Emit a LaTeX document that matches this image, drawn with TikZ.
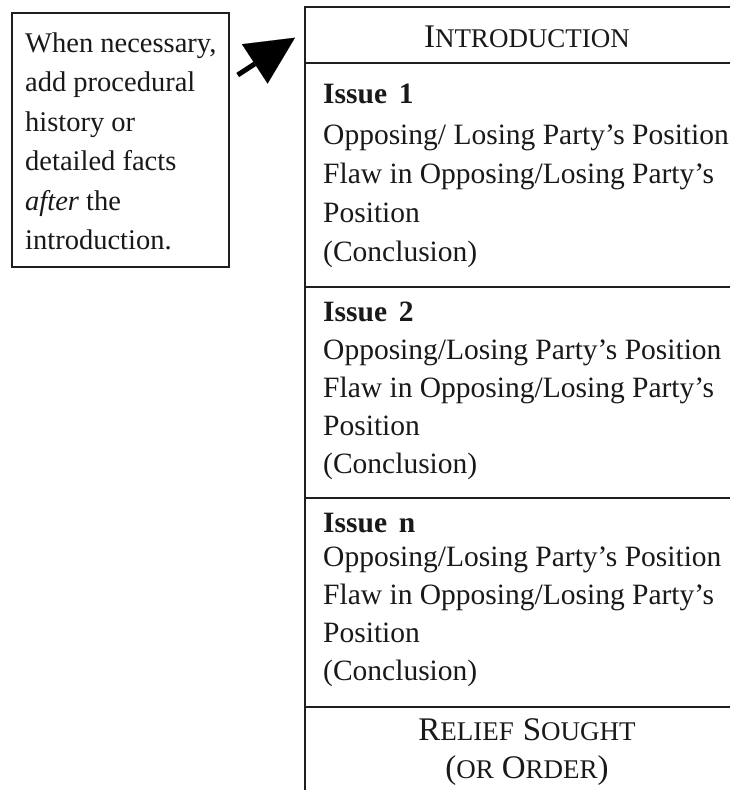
\documentclass[tikz,border=0pt]{standalone}
\usepackage{fontspec}
\setmainfont{Liberation Serif}
\usetikzlibrary{arrows.meta}
\newcommand\capbig[1]{{\fontsize{33}{33}\selectfont #1}}
\newcommand\capsmall[1]{{\fontsize{27}{27}\selectfont #1}}
\begin{document}
\begin{tikzpicture}[x=1pt,y=-1pt,
  frame/.style={draw=black!88, line width=2pt},
  body/.style={anchor=base west, inner sep=0pt, text=black!90, font=\fontsize{29.5}{36}\selectfont},
  head/.style={anchor=base west, inner sep=0pt, text=black!90, font=\fontsize{29.5}{36}\selectfont\bfseries},
  title/.style={anchor=base, inner sep=0pt, text=black!90},
  notetext/.style={anchor=base west, inner sep=0pt, text=black!90, font=\fontsize{28.5}{36}\selectfont},
  pointer/.style={line width=5pt, draw=black, -{Triangle[length=48pt,width=47pt,line width=0.1pt]}}
]
\useasboundingbox (0,0) rectangle (730,790);
\fill[white] (0,0) rectangle (730,790);

% note box
\node[frame, anchor=north west, inner sep=0pt, minimum width=217, minimum height=254] (note) at (11,12) {};
\node[notetext] (n1) at (25,52) {When necessary,};
\node[notetext] (n2) at (25,91.5) {add procedural};
\node[notetext] (n3) at (25,131) {history or};
\node[notetext] (n4) at (25,170.5) {detailed facts};
\node[notetext] (n5) at (25,210) {\textit{after} the};
\node[notetext] (n6) at (25,249.5) {introduction.};

% arrow
\coordinate (tail) at (237.7,75);
\coordinate (tip) at (295,37.7);
\draw[pointer] (tail) -- (tip);

% main outline
\draw[frame] (730,7) -- (305,7) -- (305,790);
\draw[frame] (305,63) -- (730,63);
\draw[frame] (305,287) -- (730,287);
\draw[frame] (305,498) -- (730,498);
\draw[frame] (305,707) -- (730,707);

% introduction
\node[title] (intro) at (527,47) {\capbig{I}\capsmall{NTRODUCTION}};

% issue 1
\node[head] (i1) at (323,103) {Issue\hspace{0.4em}1};
\node[body] (i1a) at (323,144) {Opposing/ Losing Party’s Position};
\node[body] (i1b) at (323,183) {Flaw in Opposing/Losing Party’s};
\node[body] (i1c) at (323,222) {Position};
\node[body] (i1d) at (323,261) {(Conclusion)};

% issue 2
\node[head] (i2) at (323,321) {Issue\hspace{0.4em}2};
\node[body] (i2a) at (323,359) {Opposing/Losing Party’s Position};
\node[body] (i2b) at (323,397.5) {Flaw in Opposing/Losing Party’s};
\node[body] (i2c) at (323,435.5) {Position};
\node[body] (i2d) at (323,473) {(Conclusion)};

% issue n
\node[head] (in) at (323,532) {Issue\hspace{0.4em}n};
\node[body] (ina) at (323,566) {Opposing/Losing Party’s Position};
\node[body] (inb) at (323,604) {Flaw in Opposing/Losing Party’s};
\node[body] (inc) at (323,642) {Position};
\node[body] (ind) at (323,680) {(Conclusion)};

% relief
\node[title] (relief) at (527,740) {\capbig{R}\capsmall{ELIEF}\hspace{9pt}\capbig{S}\capsmall{OUGHT}};
\node[title] (order) at (527,778) {\capbig{(}\capsmall{OR}\hspace{8pt}\capbig{O}\capsmall{RDER}\capbig{)}};
\end{tikzpicture}
\end{document}
